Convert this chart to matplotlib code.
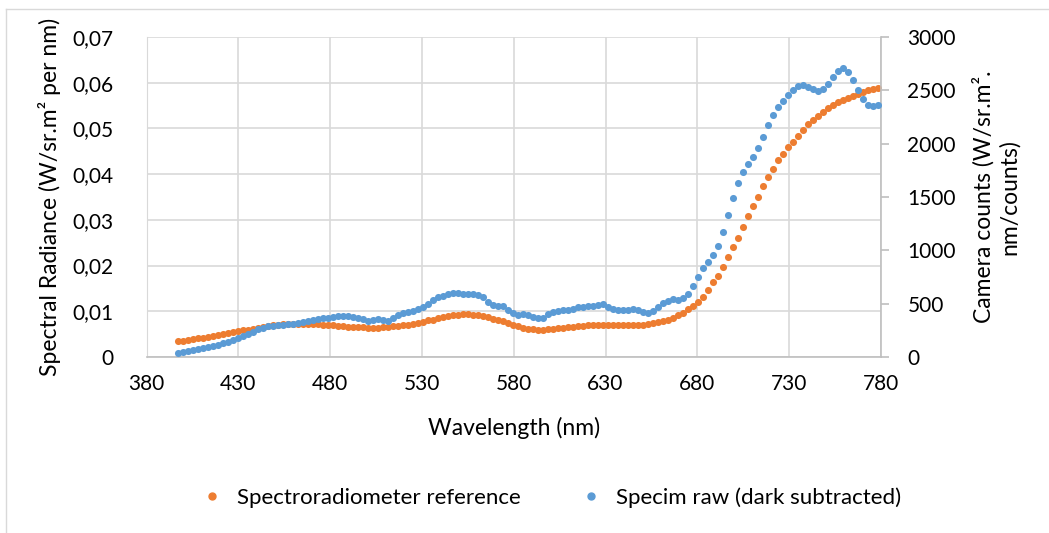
import matplotlib.pyplot as plt
from matplotlib.lines import Line2D

plt.rcParams['font.family'] = ['Lato', 'DejaVu Sans']

# wavelength samples (nm)
wavelength = [
    397.0, 399.7, 402.5, 405.2, 407.9, 410.6, 413.4, 416.1, 418.8, 421.5,
    424.3, 427.0, 429.7, 432.4, 435.2, 437.9, 440.6, 443.3, 446.1, 448.8,
    451.5, 454.2, 457.0, 459.7, 462.4, 465.1, 467.9, 470.6, 473.3, 476.0,
    478.8, 481.5, 484.2, 486.9, 489.7, 492.4, 495.1, 497.8, 500.6, 503.3,
    506.0, 508.7, 511.5, 514.2, 516.9, 519.6, 522.4, 525.1, 527.8, 530.5,
    533.3, 536.0, 538.7, 541.4, 544.2, 546.9, 549.6, 552.3, 555.1, 557.8,
    560.5, 563.2, 566.0, 568.7, 571.4, 574.1, 576.9, 579.6, 582.3, 585.0,
    587.8, 590.5, 593.2, 595.9, 598.7, 601.4, 604.1, 606.8, 609.6, 612.3,
    615.0, 617.7, 620.5, 623.2, 625.9, 628.6, 631.4, 634.1, 636.8, 639.5,
    642.3, 645.0, 647.7, 650.4, 653.2, 655.9, 658.6, 661.3, 664.1, 666.8,
    669.5, 672.2, 675.0, 677.7, 680.4, 683.1, 685.9, 688.6, 691.3, 694.0,
    696.8, 699.5, 702.2, 704.9, 707.7, 710.4, 713.1, 715.8, 718.6, 721.3,
    724.0, 726.7, 729.5, 732.2, 734.9, 737.6, 740.4, 743.1, 745.8, 748.5,
    751.3, 754.0, 756.7, 759.4, 762.2, 764.9, 767.6, 770.3, 773.1, 775.8,
    778.5,
]

# spectroradiometer reference (W/sr.m2 per nm)
spectro_ref = [
    0.0035, 0.0036, 0.0038, 0.0039, 0.0041, 0.0042, 0.0044, 0.0046, 0.0048, 0.0050,
    0.0052, 0.0054, 0.0056, 0.0058, 0.0060, 0.0062, 0.0064, 0.0066, 0.0068, 0.0070,
    0.0071, 0.0072, 0.0073, 0.0073, 0.0073, 0.0073, 0.0073, 0.0072, 0.0072, 0.0071,
    0.0070, 0.0069, 0.0068, 0.0067, 0.0066, 0.0066, 0.0065, 0.0065, 0.0064, 0.0064,
    0.0064, 0.0065, 0.0066, 0.0067, 0.0068, 0.0070, 0.0071, 0.0073, 0.0075, 0.0077,
    0.0080, 0.0082, 0.0085, 0.0087, 0.0089, 0.0091, 0.0092, 0.0093, 0.0093, 0.0092,
    0.0091, 0.0089, 0.0087, 0.0084, 0.0081, 0.0078, 0.0074, 0.0070, 0.0067, 0.0064,
    0.0062, 0.0061, 0.0060, 0.0060, 0.0061, 0.0062, 0.0063, 0.0064, 0.0065, 0.0066,
    0.0067, 0.0068, 0.0069, 0.0069, 0.0070, 0.0070, 0.0070, 0.0070, 0.0070, 0.0069,
    0.0069, 0.0069, 0.0070, 0.0071, 0.0072, 0.0074, 0.0076, 0.0079, 0.0082, 0.0086,
    0.0091, 0.0097, 0.0104, 0.0111, 0.0120, 0.0132, 0.0147, 0.0163, 0.0177, 0.0197,
    0.0218, 0.0241, 0.0261, 0.0285, 0.0309, 0.0330, 0.0351, 0.0373, 0.0393, 0.0411,
    0.0430, 0.0443, 0.0459, 0.0471, 0.0484, 0.0496, 0.0510, 0.0518, 0.0528, 0.0536,
    0.0545, 0.0551, 0.0557, 0.0562, 0.0567, 0.0572, 0.0576, 0.0580, 0.0583, 0.0586,
    0.0588,
]

# Specim raw counts, dark subtracted
specim_raw = [
    40, 48, 56, 64, 72, 82, 92, 104, 115, 128,
    142, 158, 176, 195, 215, 238, 260, 275, 287, 295,
    300, 304, 308, 312, 318, 325, 335, 345, 352, 362,
    370, 378, 383, 385, 382, 375, 365, 352, 342, 348,
    356, 348, 342, 370, 395, 408, 418, 430, 450, 468,
    495, 530, 560, 575, 588, 598, 602, 595, 590, 588,
    585, 560, 520, 490, 482, 475, 440, 410, 398, 400,
    392, 375, 362, 370, 400, 425, 432, 438, 441, 452,
    465, 472, 476, 481, 488, 494, 470, 448, 441, 441,
    445, 447, 438, 425, 410, 435, 470, 510, 528, 544,
    534, 550, 591, 666, 753, 832, 894, 956, 1041, 1175,
    1331, 1494, 1634, 1734, 1806, 1872, 1959, 2060, 2172, 2269,
    2344, 2403, 2456, 2503, 2543, 2553, 2534, 2510, 2494, 2510,
    2559, 2628, 2684, 2712, 2675, 2594, 2500, 2416, 2362, 2353,
    2359,
]

x_ticks = [380, 430, 480, 530, 580, 630, 680, 730, 780]
left_ticks = [0, 0.01, 0.02, 0.03, 0.04, 0.05, 0.06, 0.07]
left_labels = ['0', '0,01', '0,02', '0,03', '0,04', '0,05', '0,06', '0,07']
right_ticks = [0, 500, 1000, 1500, 2000, 2500, 3000]

orange = '#ED7D31'
blue = '#5B9BD5'
grid_c = '#D9D9D9'
text_c = '#000000'

fig = plt.figure(figsize=(10.49, 5.33), dpi=100)
ax = fig.add_axes([0.1397, 0.3302, 0.7001, 0.6004])
ax2 = ax.twinx()

ax.scatter(wavelength, spectro_ref, s=26, color=orange, linewidths=0, zorder=3)
ax2.scatter(wavelength, specim_raw, s=26, color=blue, linewidths=0, zorder=3)

ax.set_xlim(380, 780)
ax.set_ylim(0, 0.07)
ax2.set_ylim(0, 3000)
ax.set_xticks(x_ticks)
ax.set_yticks(left_ticks)
ax.set_yticklabels(left_labels)
ax2.set_yticks(right_ticks)

ax.grid(True, color=grid_c, linewidth=1.2)
ax.set_axisbelow(True)

for s in ['top', 'right']:
    ax.spines[s].set_visible(False)
ax.spines['left'].set_color(grid_c)
ax.spines['bottom'].set_color('#BFBFBF')
ax.spines['bottom'].set_linewidth(1.2)
for s in ['top', 'left', 'bottom']:
    ax2.spines[s].set_visible(False)
ax2.spines['right'].set_color('#BFBFBF')
ax2.spines['right'].set_linewidth(1.2)

ax.tick_params(axis='x', length=0, pad=12, labelsize=15, colors=text_c)
ax.tick_params(axis='y', length=0, pad=24, labelsize=15, colors=text_c)
ax2.tick_params(axis='y', length=6, width=1.2, color='#BFBFBF', pad=13,
                labelsize=15, labelcolor=text_c)

ax.set_xlabel('Wavelength (nm)', fontsize=16.5, labelpad=17)
ax.set_ylabel('Spectral Radiance (W/sr.m² per nm)', fontsize=16.5, labelpad=8)
ax2.set_ylabel('Camera counts (W/sr.m².\nnm/counts)', fontsize=16.5, labelpad=12)

handles = [
    Line2D([], [], linestyle='none', marker='o', markersize=5, color=orange),
    Line2D([], [], linestyle='none', marker='o', markersize=5, color=blue),
]
fig.legend(handles, ['Spectroradiometer reference', 'Specim raw (dark subtracted)'],
           loc='center', bbox_to_anchor=(0.52, 0.066), ncol=2, frameon=False,
           fontsize=16, handletextpad=0.1, columnspacing=2.2)

# light outer chart border
fig.add_artist(Line2D([0.0057, 0.0057], [0.0, 0.983], color=grid_c, linewidth=1))
fig.add_artist(Line2D([0.0057, 1.0], [0.983, 0.983], color=grid_c, linewidth=1))

fig.savefig('out.png', dpi=100)
